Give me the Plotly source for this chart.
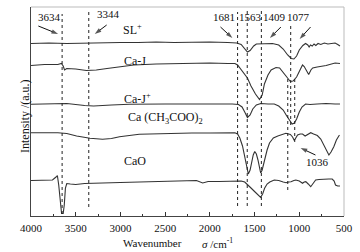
import plotly.graph_objects as go

# ---------------- data ----------------
sl_w = [4000, 3800, 3600, 3400, 3200, 3000, 2800, 2600, 2400, 2200, 2000, 1800, 1700, 1650, 1610, 1580,
        1550, 1510, 1480, 1400, 1300, 1230, 1180, 1130, 1090, 1060, 1030, 1000, 960, 930, 905, 890, 875,
        855, 835, 815, 790, 760, 720, 680, 640, 600, 570, 545]
sl_i = [172.5, 173, 172.5, 173, 173, 173.5, 173.5, 174, 173.5, 174, 174, 173.5, 173, 171.5, 167, 164,
        165.5, 170, 172, 172.5, 172.5, 171, 167, 161, 157.5, 157, 160, 166, 170.5, 172.5, 171, 169, 171,
        170, 172, 170.5, 172.5, 171.5, 173, 172, 172.5, 173, 171.5, 170]

caj_w = [4000, 3850, 3700, 3660, 3640, 3625, 3600, 3500, 3380, 3270, 3150, 3000, 2850, 2600, 2350, 2000,
         1800, 1720, 1690, 1650, 1610, 1580, 1540, 1490, 1445, 1415, 1390, 1350, 1315, 1260, 1220, 1180,
         1140, 1100, 1070, 1030, 1000, 975, 964, 945, 926, 895, 870, 850, 800, 700, 600, 545]
caj_i = [150.5, 151.5, 151.5, 152.5, 150, 146, 147.5, 147, 145.5, 146, 147.5, 149.5, 151, 152, 152.5, 153,
         152.5, 152.5, 151, 146, 141, 138, 130, 122, 116.5, 121, 132, 141, 146, 148.5, 148, 144,
         139, 134.5, 135, 139, 144, 149, 151, 149.5, 146, 141.5, 146, 148, 149, 150.5, 153, 152.5]

cajp_w = [4000, 3800, 3600, 3400, 3300, 3100, 2900, 2500, 2000, 1750, 1680, 1640, 1610, 1580, 1550, 1520,
          1480, 1430, 1350, 1280, 1230, 1180, 1140, 1100, 1080, 1055, 1030, 1000, 970, 930, 880, 800,
          700, 600, 545]
cajp_i = [111.7, 112, 112.5, 110.5, 110, 111, 111.7, 112, 112.5, 112, 111.5, 109, 104, 98.5, 101, 107,
          111, 112.5, 112, 112, 110, 106, 100, 94, 92, 93, 97, 104, 109, 112, 111.5, 112,
          112.5, 112, 112]

ac_w = [4000, 3700, 3600, 3490, 3340, 3200, 3100, 3010, 2790, 2500, 2200, 2000, 1800, 1720, 1690, 1665,
        1635, 1610, 1590, 1570, 1550, 1535, 1515, 1498, 1480, 1462, 1445, 1432, 1415, 1390, 1360, 1333,
        1290, 1240, 1150, 1100, 1075, 1056, 1035, 1019, 990, 964, 935, 905, 872, 840, 798, 760, 724,
        695, 669, 645, 614, 585, 551]
ac_i = [83.3, 83.3, 82.5, 80, 77.7, 76.7, 77.5, 79.3, 81.7, 82.7, 83, 83, 83.2, 83.3, 82, 78,
        70, 59, 48, 42, 46, 53, 61, 64.5, 62, 56, 48, 43, 46, 56, 66, 73,
        78, 80, 82.7, 81.5, 79, 75.5, 78.5, 81, 82, 82, 80, 82, 83.3, 82, 80.5, 77, 71,
        65, 61, 64, 69.3, 76, 81]

cao_w = [4000, 3850, 3760, 3720, 3705, 3690, 3672, 3658, 3640, 3628, 3615, 3600, 3560, 3500, 3400, 3300,
         3200, 3000, 2800, 2500, 2300, 2150, 2080, 2020, 1900, 1750, 1650, 1610, 1570, 1540, 1500, 1460,
         1432, 1410, 1388, 1360, 1330, 1280, 1230, 1180, 1148, 1120, 1093, 1060, 1038, 1000, 964, 945,
         927, 900, 872, 850, 817, 780, 724, 670, 632, 610, 595, 570, 545]
cao_i = [35.5, 35.5, 36, 39, 40.5, 31, 11, 2.5, 2.5, 11, 28, 32.5, 32, 31.5, 32.5, 32.5,
         33, 33.5, 34, 34.5, 35, 35.5, 33, 34.5, 34.5, 35, 35, 34, 31, 28, 24.5, 21.5,
         18.7, 22, 27.7, 32, 34, 36, 35.5, 34, 33.3, 34, 34.3, 35.5, 36, 35, 32.7, 34,
         34.3, 32, 29.3, 32, 36, 36.5, 37, 37, 37, 35, 31, 30, 30]

series = [
    ("SL<sup>+</sup>", sl_w, sl_i),
    ("Ca-J", caj_w, caj_i),
    ("Ca-J<sup>+</sup>", cajp_w, cajp_i),
    ("Ca (CH<sub>3</sub>COO)<sub>2</sub>", ac_w, ac_i),
    ("CaO", cao_w, cao_i),
]
# series label positions (wavenumber, intensity)
label_w = [2866, 2833, 2811, 2501, 2833]
label_i = [187, 155, 118, 98, 55]

# dotted reference lines: wavenumber, top, bottom (intensity units)
ref_w = [3652, 3354, 1690, 1582, 1424, 1129, 1096, 1051]
ref_top = [202, 204, 204, 206, 206, 138, 191, 138]
ref_bot = [2, 9, 10, 10, 10, 26, 91, 74]

# peak labels
peak_txt = ["3634", "3344", "1681", "1563", "1409", "1077", "1036"]
peak_w = [3796, 3132, 1837, 1544, 1278, 1012, 796]
peak_i = [199, 202, 199, 199, 199, 199, 54]
# arrows: tail -> head (wavenumber, intensity)
arr_tail_w = [3918, 3154, 1881, 1206, 874, 819]
arr_tail_i = [190, 191, 189, 189, 189, 61]
arr_head_w = [3697, 3287, 1748, 1328, 996, 985]
arr_head_i = [182, 182, 178, 178, 177, 68]

x_ticks = [4000, 3500, 3000, 2500, 2000, 1500, 1000, 500]

# ---------------- figure ----------------
FONT = "Liberation Serif"
LC = "#333333"
fig = go.Figure()
for name, w, i in series:
    fig.add_trace(go.Scatter(x=w, y=i, mode="lines", name=name,
                             line=dict(color=LC, width=1.1), showlegend=False, hoverinfo="skip"))

for tw, ti, hw, hi in zip(arr_tail_w, arr_tail_i, arr_head_w, arr_head_i):
    fig.add_trace(go.Scatter(x=[tw, hw], y=[ti, hi], mode="lines+markers",
                             line=dict(color="#111", width=1),
                             marker=dict(symbol="arrow", angleref="previous", size=[0, 7],
                                         color="#111", line=dict(width=0)),
                             showlegend=False, hoverinfo="skip"))

shapes = []
for w, t, b in zip(ref_w, ref_top, ref_bot):
    shapes.append(dict(type="line", xref="x", yref="y", x0=w, x1=w, y0=b, y1=t,
                       line=dict(color="#222222", width=1, dash="dot")))
shapes.append(dict(type="line", xref="paper", yref="paper", x0=0, x1=1, y0=1, y1=1,
                   line=dict(color="#bbbbbb", width=1)))
shapes.append(dict(type="line", xref="paper", yref="paper", x0=1, x1=1, y0=0, y1=1,
                   line=dict(color="#bbbbbb", width=1)))

ann = []
for (name, _, _), lw, li in zip(series, label_w, label_i):
    ann.append(dict(x=lw, y=li, xref="x", yref="y", text=name, showarrow=False,
                    font=dict(family=FONT, size=12, color="#111")))
for t, pw, pi in zip(peak_txt, peak_w, peak_i):
    ann.append(dict(x=pw, y=pi, xref="x", yref="y", text=t, showarrow=False,
                    font=dict(family=FONT, size=11, color="#111")))
ann.append(dict(x=0.388, y=-0.128, xref="paper", yref="paper", yanchor="middle",
                text="Wavenumber", showarrow=False,
                font=dict(family=FONT, size=11, color="#111")))
ann.append(dict(x=0.597, y=-0.128, xref="paper", yref="paper", yanchor="middle",
                text="<i>σ</i> /cm<sup>-1</sup>", showarrow=False,
                font=dict(family=FONT, size=11, color="#111")))
ann.append(dict(x=-0.05, y=0.48, xref="paper", yref="paper", textangle=-90,
                text="Intensity /(a.u.)", showarrow=False,
                font=dict(family=FONT, size=12, color="#111")))

fig.update_layout(
    width=360, height=252,
    margin=dict(l=31, r=13, t=7, b=36),
    paper_bgcolor="white", plot_bgcolor="white",
    shapes=shapes, annotations=ann,
    xaxis=dict(range=[4000, 500], tickvals=x_ticks, ticks="inside", ticklen=4, tickwidth=1,
               tickcolor="#333", showline=True, linecolor="#444", linewidth=1, showgrid=False,
               zeroline=False, tickfont=dict(family=FONT, size=11, color="#111"),
               ticklabelstandoff=2,
               minor=dict(dtick=250, tick0=500, ticks="inside", ticklen=2.5, tickcolor="#333")),
    yaxis=dict(range=[0, 209], showticklabels=False, ticks="", showline=True, linecolor="#444",
               linewidth=1, showgrid=False, zeroline=False),
)
fig.write_html("out.html", config={"displayModeBar": False},
               post_script="document.body.style.margin='0';document.body.style.overflow='hidden';")
